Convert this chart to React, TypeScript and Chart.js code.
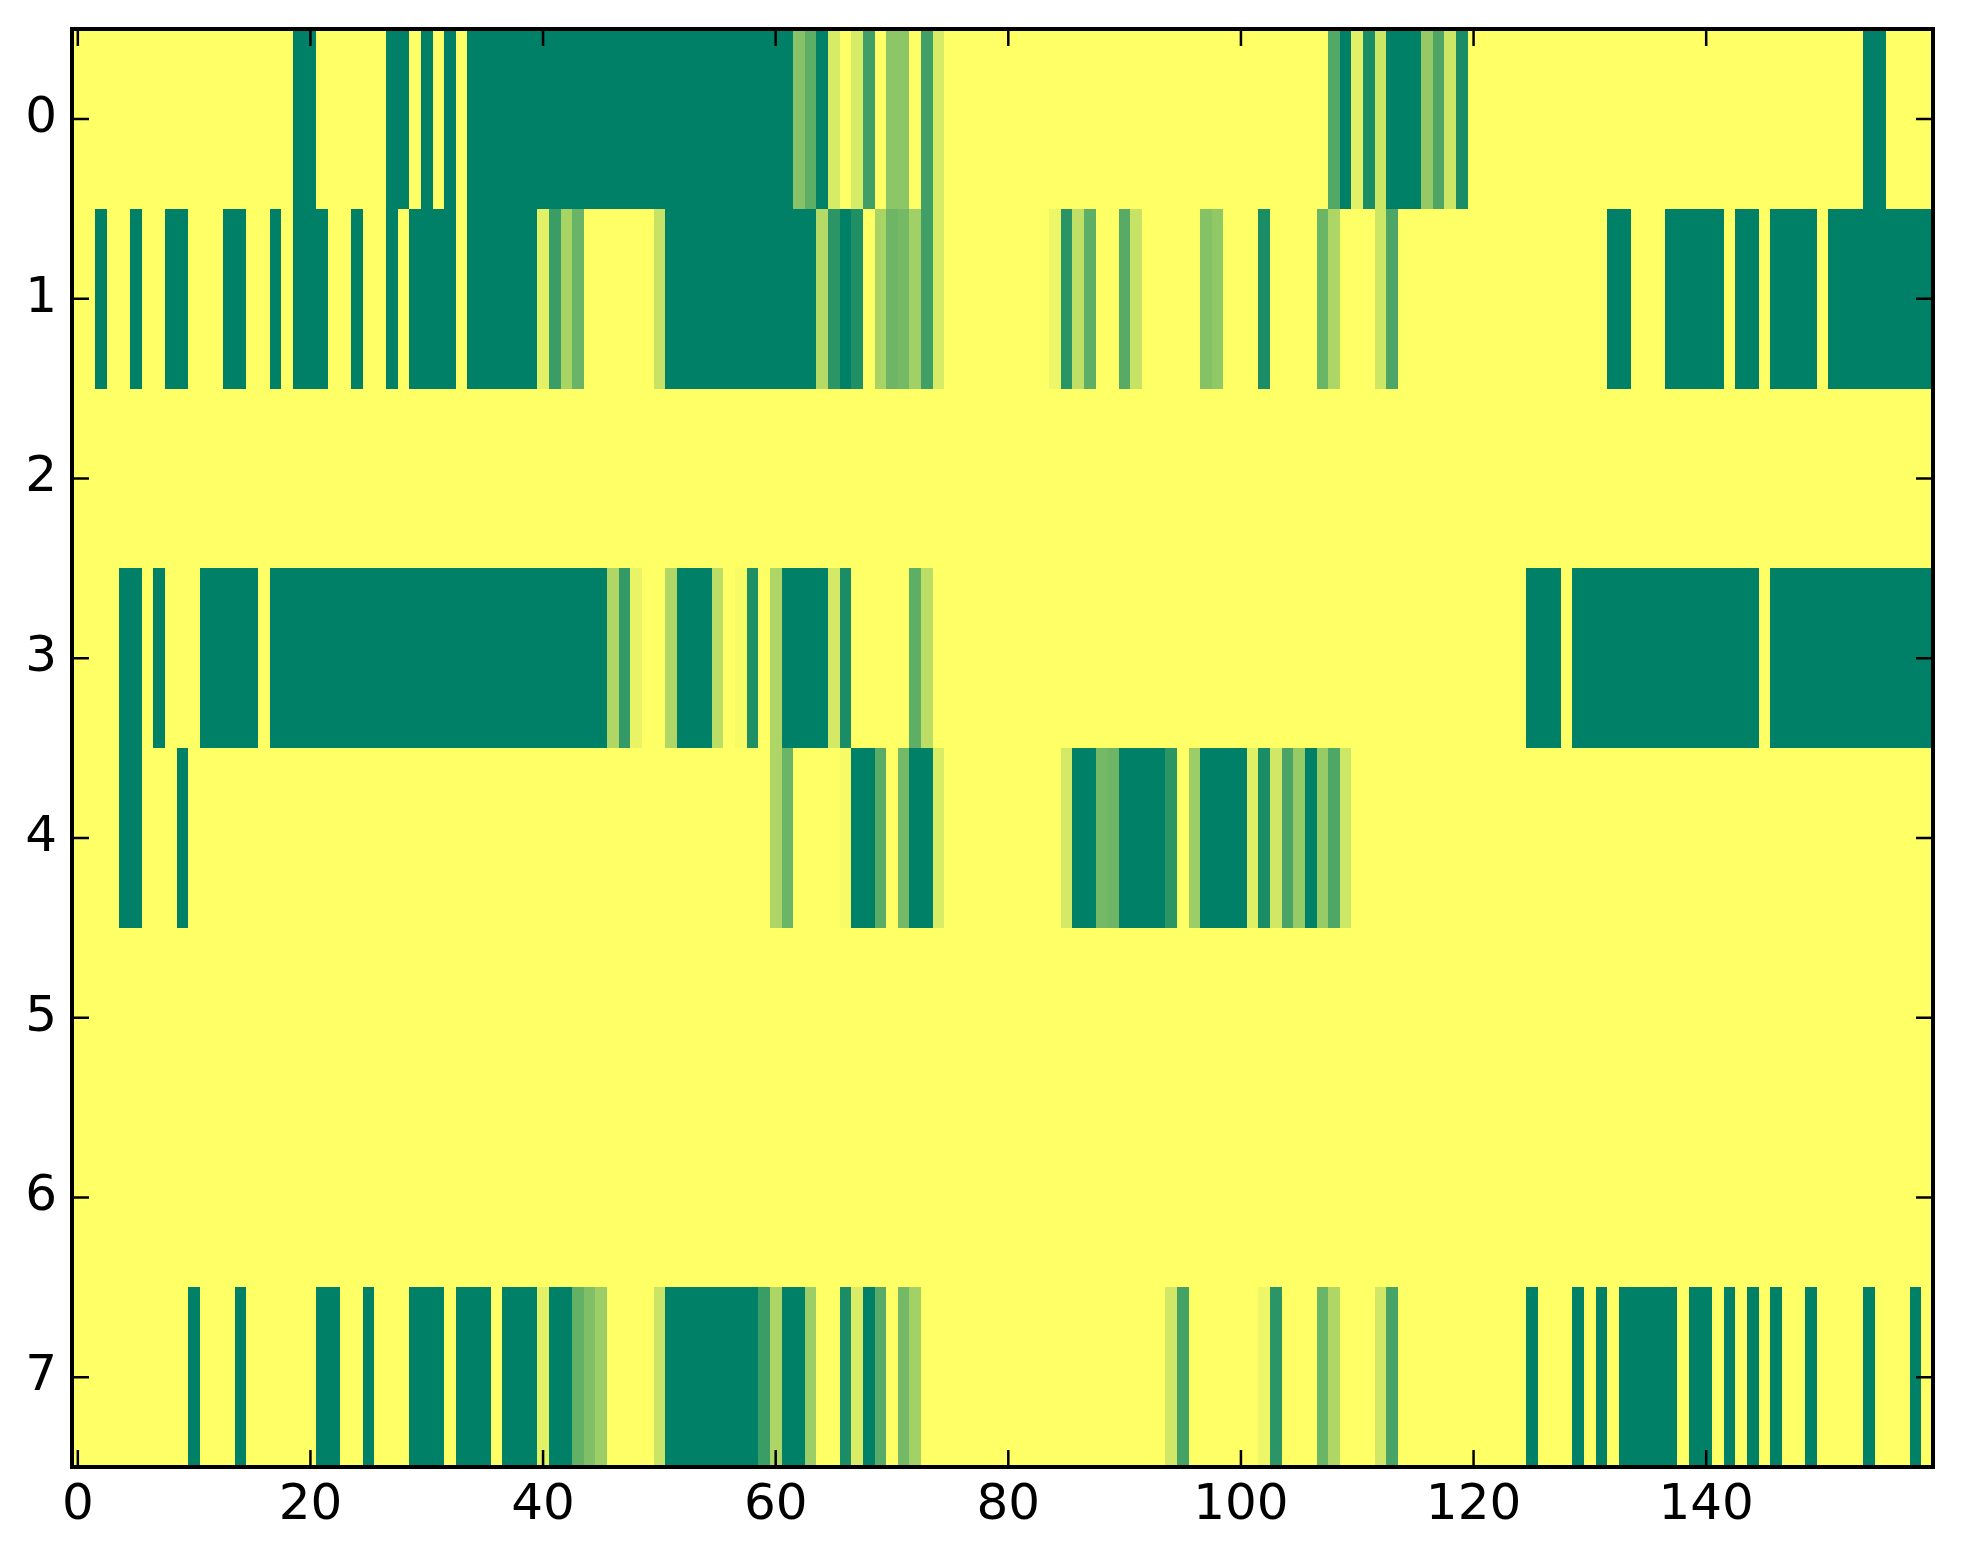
import React, { useEffect, useRef } from "react";
import { Chart, registerables } from "chart.js";

Chart.register(...registerables);

// ---- data ----
const xTickValues = [0, 20, 40, 60, 80, 100, 120, 140];
const yTickValues = [0, 1, 2, 3, 4, 5, 6, 7];
const xRange = [-0.5, 159.5];
const yRange = [-0.5, 7.5];

const row0 = [
  1, 1, 1, 1, 1, 1, 1, 1, 1, 1, 1, 1, 1, 1, 1, 1, 1, 1, 1, 0,
  0, 1, 1, 1, 1, 1, 1, 0, 0, 1, 0, 1, 0, 1, 0, 0, 0, 0, 0, 0,
  0, 0, 0, 0, 0, 0, 0, 0, 0, 0, 0, 0, 0, 0, 0, 0, 0, 0, 0, 0,
  0, 0, 0.53, 0.37, 0, 0.84, 1, 0.84, 0.25, 1, 0.55, 0.55, 1, 0.25, 0.84, 1, 1, 1, 1, 1,
  1, 1, 1, 1, 1, 1, 1, 1, 1, 1, 1, 1, 1, 1, 1, 1, 1, 1, 1, 1,
  1, 1, 1, 1, 1, 1, 1, 1, 0.32, 0, 0.89, 0.1, 0.8, 0, 0, 0, 0.58, 0.3, 0.8, 0.1,
  1, 1, 1, 1, 1, 1, 1, 1, 1, 1, 1, 1, 1, 1, 1, 1, 1, 1, 1, 1,
  1, 1, 1, 1, 1, 1, 1, 1, 1, 1, 1, 1, 1, 1, 0, 0, 1, 1, 1, 1,
];

const row1 = [
  1, 1, 0, 1, 1, 0, 1, 1, 0, 0, 1, 1, 1, 0, 0, 1, 1, 0, 1, 0,
  0, 0, 1, 1, 0, 1, 1, 0, 1, 0, 0, 0, 0, 1, 0, 0, 0, 0, 0, 0,
  0.89, 0.23, 0.66, 0.41, 1, 1, 1, 1, 1, 1, 0.78, 0, 0, 0, 0, 0, 0, 0, 0, 0,
  0, 0, 0, 0, 0.71, 0.17, 0, 0.12, 1, 0.66, 0.43, 0.45, 0.63, 0.25, 0.84, 1, 1, 1, 1, 1,
  1, 1, 1, 1, 0.93, 0.16, 0.75, 0.37, 1, 1, 0.34, 0.78, 1, 1, 1, 1, 1, 0.52, 0.57, 1,
  1, 1, 0.1, 1, 1, 1, 1, 0.42, 0.68, 1, 1, 1, 0.8, 0.3, 1, 1, 1, 1, 1, 1,
  1, 1, 1, 1, 1, 1, 1, 1, 1, 1, 1, 1, 0, 0, 1, 1, 1, 0, 0, 0,
  0, 0, 1, 0, 0, 1, 0, 0, 0, 0, 1, 0, 0, 0, 0, 0, 0, 0, 0, 0,
];

const row2 = [
  1, 1, 1, 1, 1, 1, 1, 1, 1, 1, 1, 1, 1, 1, 1, 1, 1, 1, 1, 1,
  1, 1, 1, 1, 1, 1, 1, 1, 1, 1, 1, 1, 1, 1, 1, 1, 1, 1, 1, 1,
  1, 1, 1, 1, 1, 1, 1, 1, 1, 1, 1, 1, 1, 1, 1, 1, 1, 1, 1, 1,
  1, 1, 1, 1, 1, 1, 1, 1, 1, 1, 1, 1, 1, 1, 1, 1, 1, 1, 1, 1,
  1, 1, 1, 1, 1, 1, 1, 1, 1, 1, 1, 1, 1, 1, 1, 1, 1, 1, 1, 1,
  1, 1, 1, 1, 1, 1, 1, 1, 1, 1, 1, 1, 1, 1, 1, 1, 1, 1, 1, 1,
  1, 1, 1, 1, 1, 1, 1, 1, 1, 1, 1, 1, 1, 1, 1, 1, 1, 1, 1, 1,
  1, 1, 1, 1, 1, 1, 1, 1, 1, 1, 1, 1, 1, 1, 1, 1, 1, 1, 1, 1,
];

const row3 = [
  1, 1, 1, 1, 0, 0, 1, 0, 1, 1, 1, 0, 0, 0, 0, 0, 1, 0, 0, 0,
  0, 0, 0, 0, 0, 0, 0, 0, 0, 0, 0, 0, 0, 0, 0, 0, 0, 0, 0, 0,
  0, 0, 0, 0, 0, 0, 0.69, 0.2, 0.91, 1, 1, 0.69, 0, 0, 0, 0.74, 1, 0.97, 0.12, 1,
  0.68, 0, 0, 0, 0, 0.83, 0.1, 1, 1, 1, 1, 1, 0.37, 0.74, 1, 1, 1, 1, 1, 1,
  1, 1, 1, 1, 1, 1, 1, 1, 1, 1, 1, 1, 1, 1, 1, 1, 1, 1, 1, 1,
  1, 1, 1, 1, 1, 1, 1, 1, 1, 1, 1, 1, 1, 1, 1, 1, 1, 1, 1, 1,
  1, 1, 1, 1, 1, 0, 0, 0, 1, 0, 0, 0, 0, 0, 0, 0, 0, 0, 0, 0,
  0, 0, 0, 0, 0, 1, 0, 0, 0, 0, 0, 0, 0, 0, 0, 0, 0, 0, 0, 0,
];

const row4 = [
  1, 1, 1, 1, 0, 0, 1, 1, 1, 0, 1, 1, 1, 1, 1, 1, 1, 1, 1, 1,
  1, 1, 1, 1, 1, 1, 1, 1, 1, 1, 1, 1, 1, 1, 1, 1, 1, 1, 1, 1,
  1, 1, 1, 1, 1, 1, 1, 1, 1, 1, 1, 1, 1, 1, 1, 1, 1, 1, 1, 1,
  0.68, 0.42, 1, 1, 1, 1, 0.97, 0, 0, 0.35, 1, 0.45, 0, 0, 0.85, 1, 1, 1, 1, 1,
  1, 1, 1, 1, 1, 0.83, 0, 0, 0.45, 0.43, 0, 0, 0, 0, 0.17, 1, 0.61, 0, 0, 0,
  0, 0.88, 0.1, 0.82, 0.29, 0.59, 0, 0.59, 0.31, 0.8, 1, 1, 1, 1, 1, 1, 1, 1, 1, 1,
  1, 1, 1, 1, 1, 1, 1, 1, 1, 1, 1, 1, 1, 1, 1, 1, 1, 1, 1, 1,
  1, 1, 1, 1, 1, 1, 1, 1, 1, 1, 1, 1, 1, 1, 1, 1, 1, 1, 1, 1,
];

const row5 = [
  1, 1, 1, 1, 1, 1, 1, 1, 1, 1, 1, 1, 1, 1, 1, 1, 1, 1, 1, 1,
  1, 1, 1, 1, 1, 1, 1, 1, 1, 1, 1, 1, 1, 1, 1, 1, 1, 1, 1, 1,
  1, 1, 1, 1, 1, 1, 1, 1, 1, 1, 1, 1, 1, 1, 1, 1, 1, 1, 1, 1,
  1, 1, 1, 1, 1, 1, 1, 1, 1, 1, 1, 1, 1, 1, 1, 1, 1, 1, 1, 1,
  1, 1, 1, 1, 1, 1, 1, 1, 1, 1, 1, 1, 1, 1, 1, 1, 1, 1, 1, 1,
  1, 1, 1, 1, 1, 1, 1, 1, 1, 1, 1, 1, 1, 1, 1, 1, 1, 1, 1, 1,
  1, 1, 1, 1, 1, 1, 1, 1, 1, 1, 1, 1, 1, 1, 1, 1, 1, 1, 1, 1,
  1, 1, 1, 1, 1, 1, 1, 1, 1, 1, 1, 1, 1, 1, 1, 1, 1, 1, 1, 1,
];

const row6 = [
  1, 1, 1, 1, 1, 1, 1, 1, 1, 1, 1, 1, 1, 1, 1, 1, 1, 1, 1, 1,
  1, 1, 1, 1, 1, 1, 1, 1, 1, 1, 1, 1, 1, 1, 1, 1, 1, 1, 1, 1,
  1, 1, 1, 1, 1, 1, 1, 1, 1, 1, 1, 1, 1, 1, 1, 1, 1, 1, 1, 1,
  1, 1, 1, 1, 1, 1, 1, 1, 1, 1, 1, 1, 1, 1, 1, 1, 1, 1, 1, 1,
  1, 1, 1, 1, 1, 1, 1, 1, 1, 1, 1, 1, 1, 1, 1, 1, 1, 1, 1, 1,
  1, 1, 1, 1, 1, 1, 1, 1, 1, 1, 1, 1, 1, 1, 1, 1, 1, 1, 1, 1,
  1, 1, 1, 1, 1, 1, 1, 1, 1, 1, 1, 1, 1, 1, 1, 1, 1, 1, 1, 1,
  1, 1, 1, 1, 1, 1, 1, 1, 1, 1, 1, 1, 1, 1, 1, 1, 1, 1, 1, 1,
];

const row7 = [
  1, 1, 1, 1, 1, 1, 1, 1, 1, 1, 0, 1, 1, 1, 0, 1, 1, 1, 1, 1,
  1, 0, 0, 1, 1, 0, 1, 1, 1, 0, 0, 0, 1, 0, 0, 0, 1, 0, 0, 0,
  0.89, 0, 0, 0.39, 0.5, 0.61, 1, 1, 1, 1, 0.79, 0, 0, 0, 0, 0, 0, 0, 0, 0.23,
  0.68, 0, 0, 0.61, 1, 1, 0.1, 0.86, 0, 0.34, 1, 0.45, 0.64, 1, 1, 1, 1, 1, 1, 1,
  1, 1, 1, 1, 1, 1, 1, 1, 1, 1, 1, 1, 1, 1, 0.82, 0.27, 1, 1, 1, 1,
  1, 1, 0.93, 0.17, 1, 1, 1, 0.42, 0.69, 1, 1, 1, 0.82, 0.28, 1, 1, 1, 1, 1, 1,
  1, 1, 1, 1, 1, 0, 1, 1, 1, 0, 1, 0, 1, 0, 0, 0, 0, 0, 1, 0,
  0, 1, 0, 1, 0, 1, 0, 1, 1, 0, 1, 1, 1, 1, 0, 1, 1, 1, 0, 1,
];

const rows = [row0, row1, row2, row3, row4, row5, row6, row7];

// ---- styling helpers ----
const FONT = { family: "'DejaVu Sans', 'Liberation Sans', sans-serif", size: 50 };
const W = 1963;
const H = 1564;

// matplotlib "summer" colormap: (v, 0.5 + 0.5 v, 0.4)
function summer(v: number): string {
  const r = Math.round(255 * v);
  const g = Math.round(255 * (0.5 + 0.5 * v));
  const b = 102;
  return `rgb(${r},${g},${b})`;
}

const heatmapPlugin = {
  id: "heatmapCells",
  beforeDatasetsDraw(chart: any) {
    const { ctx, chartArea, scales } = chart;
    const xs = scales.x;
    const ys = scales.y;
    const data = chart.data.datasets[0].data as { x: number; y: number; v: number }[];
    ctx.save();
    ctx.beginPath();
    ctx.rect(chartArea.left, chartArea.top, chartArea.right - chartArea.left, chartArea.bottom - chartArea.top);
    ctx.clip();
    for (const d of data) {
      const x0 = Math.round(xs.getPixelForValue(d.x - 0.5));
      const x1 = Math.round(xs.getPixelForValue(d.x + 0.5));
      const y0 = Math.round(ys.getPixelForValue(d.y - 0.5));
      const y1 = Math.round(ys.getPixelForValue(d.y + 0.5));
      ctx.fillStyle = summer(d.v);
      ctx.fillRect(Math.min(x0, x1), Math.min(y0, y1), Math.abs(x1 - x0), Math.abs(y1 - y0));
    }
    ctx.restore();
  },
  afterDatasetsDraw(chart: any) {
    const { ctx, chartArea, scales } = chart;
    const xs = scales.x;
    const ys = scales.y;
    const { left, right, top, bottom } = chartArea;
    const tickLen = 17;
    ctx.save();
    ctx.strokeStyle = "#000";
    ctx.lineWidth = 2.5;
    ctx.beginPath();
    for (const v of xTickValues) {
      const px = xs.getPixelForValue(v);
      ctx.moveTo(px, bottom);
      ctx.lineTo(px, bottom - tickLen);
      ctx.moveTo(px, top);
      ctx.lineTo(px, top + tickLen);
    }
    for (const v of yTickValues) {
      const py = ys.getPixelForValue(v);
      ctx.moveTo(left, py);
      ctx.lineTo(left + tickLen, py);
      ctx.moveTo(right, py);
      ctx.lineTo(right - tickLen, py);
    }
    ctx.stroke();
    ctx.lineWidth = 4;
    ctx.strokeRect(left, top, right - left, bottom - top);
    ctx.restore();
  },
};

export default function App() {
  const canvasRef = useRef<HTMLCanvasElement | null>(null);

  useEffect(() => {
    document.body.style.margin = "0";
    const canvas = canvasRef.current;
    if (!canvas) return;
    const cells = rows.flatMap((row, r) => row.map((v, c) => ({ x: c, y: r, v })));
    const chart = new Chart(canvas, {
      type: "scatter",
      data: {
        datasets: [
          {
            data: cells as any,
            pointRadius: 0,
            pointHoverRadius: 0,
            showLine: false,
          },
        ],
      },
      options: {
        animation: false,
        responsive: false,
        devicePixelRatio: 1,
        events: [],
        layout: { padding: { top: 29, right: 30, bottom: 0, left: 0 } },
        plugins: {
          legend: { display: false },
          tooltip: { enabled: false },
        },
        scales: {
          x: {
            type: "linear",
            position: "bottom",
            min: xRange[0],
            max: xRange[1],
            grid: { display: false, drawTicks: false },
            border: { display: false },
            ticks: {
              color: "#000",
              font: FONT,
              padding: 9,
              maxRotation: 0,
              autoSkip: false,
            },
            afterBuildTicks: (scale: any) => {
              scale.ticks = xTickValues.map((v) => ({ value: v }));
            },
            afterFit: (scale: any) => {
              scale.height = 97;
              scale.paddingLeft = 0;
              scale.paddingRight = 0;
            },
          },
          y: {
            type: "linear",
            position: "left",
            reverse: true,
            min: yRange[0],
            max: yRange[1],
            grid: { display: false, drawTicks: false },
            border: { display: false },
            ticks: {
              color: "#000",
              font: FONT,
              padding: 15,
              autoSkip: false,
            },
            afterBuildTicks: (scale: any) => {
              scale.ticks = yTickValues.map((v) => ({ value: v }));
            },
            afterFit: (scale: any) => {
              scale.width = 72;
              scale.paddingTop = 0;
              scale.paddingBottom = 0;
            },
          },
        },
      },
      plugins: [heatmapPlugin],
    });
    return () => chart.destroy();
  }, []);

  return (
    <div style={{ position: "absolute", left: 0, top: 0, width: W, height: H, background: "#fff" }}>
      <canvas ref={canvasRef} width={W} height={H} style={{ width: W, height: H, display: "block" }} />
    </div>
  );
}
